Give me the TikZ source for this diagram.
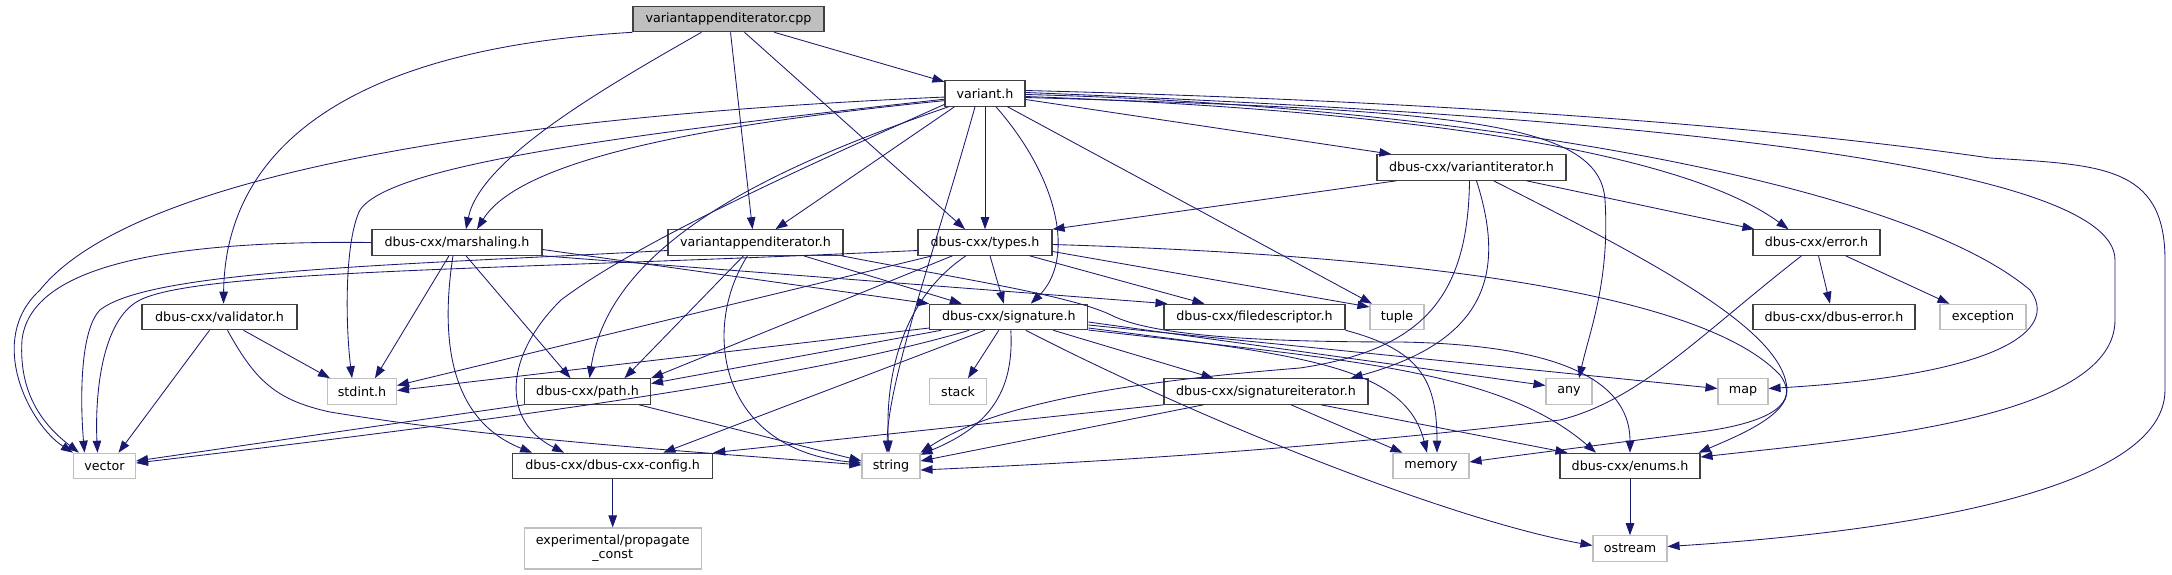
\documentclass[tikz,border=0pt]{standalone}
\usepackage{fontspec}
\setmainfont{DejaVu Sans}
\usetikzlibrary{arrows.meta,calc}
\definecolor{edgec}{HTML}{191970}
\definecolor{boxd}{HTML}{404040}
\definecolor{boxg}{HTML}{BFBFBF}
\begin{document}
\begin{tikzpicture}[x=1pt,y=-1pt,
  hdr/.style={draw=boxd, line width=1.1pt, fill=white, inner sep=0pt, minimum height=25.5pt,
    font=\fontsize{12.7pt}{14pt}\selectfont, text=black},
  sys/.style={hdr, draw=boxg},
  root/.style={hdr, fill=boxg},
  dep/.style={draw=edgec, line width=0.85pt, -{Triangle[length=12pt,width=8.5pt]}}]
\useasboundingbox (0,0) rectangle (2172,575);
% nodes
\node[root, minimum width=191pt] (cpp) at (728.5,19) {variantappenditerator.cpp};
\node[hdr, minimum width=80pt] (V) at (985,93.5) {variant.h};
\node[hdr, minimum width=189pt] (VI) at (1471.5,167.5) {dbus-cxx/variantiterator.h};
\node[hdr, minimum width=170pt] (M) at (457,242.5) {dbus-cxx/marshaling.h};
\node[hdr, minimum width=175pt] (VA) at (755.5,242.5) {variantappenditerator.h};
\node[hdr, minimum width=134pt] (T) at (985,242.5) {dbus-cxx/types.h};
\node[hdr, minimum width=127pt] (E) at (1816.5,242.5) {dbus-cxx/error.h};
\node[hdr, minimum width=155pt] (VAL) at (219.5,317) {dbus-cxx/validator.h};
\node[hdr, minimum width=158pt] (S) at (1008.8,317) {dbus-cxx/signature.h};
\node[hdr, minimum width=181pt] (FD) at (1254.5,317) {dbus-cxx/filedescriptor.h};
\node[sys, minimum width=54pt] (tuple) at (1397,317) {tuple};
\node[hdr, minimum width=162pt] (DE) at (1834,317) {dbus-cxx/dbus-error.h};
\node[sys, minimum width=86pt] (exc) at (1983,317) {exception};
\node[sys, minimum width=69pt] (stdint) at (362,391.5) {stdint.h};
\node[hdr, minimum width=126pt] (P) at (587.5,391.5) {dbus-cxx/path.h};
\node[sys, minimum width=57pt] (stack) at (958,391.5) {stack};
\node[hdr, minimum width=204pt] (SI) at (1266,391.5) {dbus-cxx/signatureiterator.h};
\node[sys, minimum width=46pt] (any) at (1569,391.5) {any};
\node[sys, minimum width=50pt] (map) at (1743,391.5) {map};
\node[sys, minimum width=62pt] (vector) at (104.5,466) {vector};
\node[hdr, minimum width=200pt] (C) at (612.7,466) {dbus-cxx/dbus-cxx-config.h};
\node[sys, minimum width=58pt] (string) at (891,466) {string};
\node[sys, minimum width=76pt] (memory) at (1431,466) {memory};
\node[hdr, minimum width=140pt] (enums) at (1630,466) {dbus-cxx/enums.h};
\node[sys, minimum width=177pt, minimum height=41pt, align=center] (X) at (612.7,548.5) {experimental/propagate\\\_const};
\node[sys, minimum width=74pt] (ostream) at (1630,548.5) {ostream};
% cpp
\draw[dep] (cpp) -- (V);
\draw[dep] (cpp.south west) .. controls (330,50) and (225,160) .. ($(VAL.north)+(4,0)$);
\draw[dep] ($(cpp.south)+(-27,0)$) .. controls (600,90) and (480,160) .. ($(M.north)+(9,0)$);
\draw[dep] ($(cpp.south)+(2,0)$) -- ($(VA.north)+(-3,0)$);
\draw[dep] ($(cpp.south)+(16,0)$) -- ($(T.north)+(-20,0)$);
% variant.h
\draw[dep] (V.185) .. controls (420,120) and (120,190) .. (40,290) .. controls (-15,340) and (30,425) .. (vector.north west);
\draw[dep] (V.188) .. controls (620,135) and (390,165) .. (360,210) .. controls (345,240) and (345,320) .. ($(stdint.north)+(-10,0)$);
\draw[dep] (V.190) .. controls (700,125) and (520,160) .. ($(M.north)+(20,0)$);
\draw[dep] (V.195) .. controls (820,160) and (640,240) .. (561,300) .. controls (505,355) and (500,420) .. ($(C.north west)+(52,0)$);
\draw[dep] (V.200) .. controls (780,165) and (610,240) .. ($(P.north)+(2,0)$);
\draw[dep] (V) -- (T);
\draw[dep] ($(V.south west)+(10,0)$) -- ($(VA.north)+(20,0)$);
\draw[dep] ($(V.south)+(-10,0)$) .. controls (935,250) and (888,380) .. ($(string.north)+(-4,0)$);
\draw[dep] ($(V.south)+(11,0)$) .. controls (1060,180) and (1075,260) .. ($(S.north)+(22,0)$);
\draw[dep] ($(V.south east)+(-18,0)$) -- (tuple.152);
\draw[dep] ($(V.east)+(0,6)$) -- ($(VI.north west)+(15,0)$);
\draw[dep] ($(V.east)+(0,3)$) .. controls (1400,110) and (1680,150) .. ($(E.north)+(-28,0)$);
\draw[dep] ($(V.east)+(0,4)$) .. controls (1450,110) and (1600,120) .. (1605,200) .. controls (1610,280) and (1590,330) .. ($(any.north)+(10,0)$);
\draw[dep] ($(V.east)+(0,1)$) .. controls (1450,105) and (1900,180) .. (2030,290) .. controls (2060,330) and (2000,375) .. ($(map.east)+(0,-3)$);
\draw[dep] ($(V.east)+(0,-1)$) .. controls (1600,115) and (2115,160) .. (2115,260) -- (2115,320) .. controls (2115,420) and (1850,440) .. ($(enums.east)+(0,-9)$);
\draw[dep] ($(V.east)+(0,-3)$) .. controls (1600,105) and (1900,145) .. (1990,158) .. controls (2100,165) and (2165,165) .. (2165,260) -- (2165,390) .. controls (2165,500) and (1850,535) .. ($(ostream.east)+(0,-2)$);
% marshaling.h
\draw[dep] (M.west) .. controls (150,240) and (30,270) .. (22,340) .. controls (18,400) and (50,430) .. ($(vector.north west)+(6,0)$);
\draw[dep] ($(M.south)+(-8,0)$) -- ($(stdint.north)+(13,0)$);
\draw[dep] ($(M.south)+(9,0)$) -- ($(P.north)+(-17,0)$);
\draw[dep] ($(M.south)+(-4,0)$) .. controls (440,340) and (450,420) .. ($(C.north west)+(20,0)$);
\draw[dep] ($(M.east)+(0,7)$) -- (S.north west);
\draw[dep] (M.south east) -- ($(FD.north west)+(4,0)$);
% variantappenditerator.h
\draw[dep] ($(VA.west)+(0,8)$) .. controls (400,265) and (150,270) .. (100,310) .. controls (80,330) and (80,400) .. ($(vector.north)+(-20,0)$);
\draw[dep] ($(VA.south)+(-12,0)$) -- ($(P.north)+(37,0)$);
\draw[dep] ($(VA.south)+(-8,0)$) .. controls (700,330) and (720,450) .. ($(string.west)+(0,-3)$);
\draw[dep] ($(VA.south)+(48,0)$) -- ($(S.north)+(-47,0)$);
\draw[dep] ($(VA.south east)+(-2,0)$) .. controls (950,277) and (1070,295) .. (1111,315) .. controls (1150,335) and (1250,342) .. (1400,342) .. controls (1580,345) and (1630,390) .. (enums.north);
% types.h
\draw[dep] ($(T.west)+(0,8)$) .. controls (500,270) and (200,270) .. (140,300) .. controls (100,320) and (95,400) .. ($(vector.north)+(-7,0)$);
\draw[dep] ($(T.south west)+(15,0)$) -- ($(stdint.east)+(0,-6)$);
\draw[dep] ($(T.south west)+(35,0)$) -- (P.north east);
\draw[dep] ($(T.south)+(-19,0)$) .. controls (900,300) and (885,380) .. ($(string.north)+(-2,0)$);
\draw[dep] ($(T.south)+(5,0)$) -- ($(S.north)+(-5,0)$);
\draw[dep] ($(T.south east)+(-23,0)$) -- ($(FD.north west)+(41,0)$);
\draw[dep] ($(T.east)+(0,9)$) -- (tuple.160);
\draw[dep] ($(T.east)+(0,2)$) .. controls (1400,255) and (1700,290) .. (1780,375) .. controls (1795,395) and (1790,420) .. (1700,432) .. controls (1600,445) and (1520,455) .. ($(memory.east)+(0,-4)$);
% variantiterator.h
\draw[dep] ($(VI.south west)+(20,0)$) -- (T.north east);
\draw[dep] ($(VI.south)+(55,0)$) -- ($(E.north west)+(2,0)$);
\draw[dep] ($(VI.south)+(5,0)$) .. controls (1505,270) and (1490,340) .. ($(SI.north east)+(-18,0)$);
\draw[dep] ($(VI.south)+(-2,0)$) .. controls (1468,300) and (1420,350) .. (1300,368) .. controls (1150,380) and (1000,400) .. (string.north east);
\draw[dep] ($(VI.south east)+(-73,0)$) .. controls (1650,260) and (1785,330) .. (1787,390) .. controls (1788,415) and (1740,435) .. ($(enums.north east)+(-2,0)$);
% error.h
\draw[dep] ($(E.south)+(2,0)$) -- ($(DE.north)+(-4,0)$);
\draw[dep] ($(E.south east)+(-35,0)$) -- ($(exc.north west)+(10,0)$);
\draw[dep] ($(E.south)+(-15,0)$) .. controls (1700,335) and (1640,400) .. (1560,420) .. controls (1300,450) and (1100,462) .. ($(string.east)+(0,4)$);
% validator.h
\draw[dep] ($(VAL.south)+(24,0)$) -- ($(stdint.north west)+(3,0)$);
\draw[dep] ($(VAL.south)+(-10,0)$) -- ($(vector.north)+(14,0)$);
\draw[dep] ($(VAL.south)+(8,0)$) .. controls (255,380) and (275,400) .. (330,412) .. controls (500,440) and (700,452) .. ($(string.west)+(0,-1)$);
% signature.h
\draw[dep] ($(S.west)+(0,11)$) -- ($(stdint.east)+(0,-1)$);
\draw[dep] ($(S.south west)+(12,0)$) -- ($(P.east)+(0,-8)$);
\draw[dep] ($(S.south west)+(40,0)$) .. controls (800,380) and (500,420) .. ($(vector.east)+(0,-3)$);
\draw[dep] ($(S.south)+(-24,0)$) -- ($(C.north east)+(-50,0)$);
\draw[dep] ($(S.south)+(-10,0)$) -- ($(stack.north)+(10,0)$);
\draw[dep] ($(S.south)+(2,0)$) .. controls (1015,400) and (980,430) .. ($(string.north east)+(0,2)$);
\draw[dep] ($(S.south east)+(-35,0)$) -- ($(SI.north west)+(50,0)$);
\draw[dep] ($(S.south)+(17,0)$) .. controls (1200,420) and (1450,520) .. ($(ostream.west)+(0,-3)$);
\draw[dep] ($(S.east)+(0,5)$) -- ($(any.west)+(0,-6)$);
\draw[dep] ($(S.east)+(0,8)$) -- ($(map.west)+(0,-3)$);
\draw[dep] ($(S.east)+(0,11)$) .. controls (1300,355) and (1405,365) .. ($(memory.north)+(-4,0)$);
\draw[dep] ($(S.east)+(0,13)$) .. controls (1350,360) and (1500,370) .. ($(enums.north)+(-34,0)$);
% signatureiterator.h
\draw[dep] (SI.south west) -- (C.north east);
\draw[dep] ($(SI.south west)+(40,0)$) -- ($(string.east)+(0,-5)$);
\draw[dep] ($(SI.south)+(25,0)$) -- ($(memory.north west)+(10,0)$);
\draw[dep] ($(SI.south)+(55,0)$) -- ($(enums.north west)+(8,0)$);
% others
\draw[dep] (FD.south east) .. controls (1420,350) and (1437,380) .. ($(memory.north)+(6,0)$);
\draw[dep] (P.south west) -- ($(vector.east)+(0,-5)$);
\draw[dep] ($(P.south east)+(-12,0)$) -- ($(string.west)+(0,-5)$);
\draw[dep] (C) -- (X);
\draw[dep] (enums) -- (ostream);
\end{tikzpicture}
\end{document}
